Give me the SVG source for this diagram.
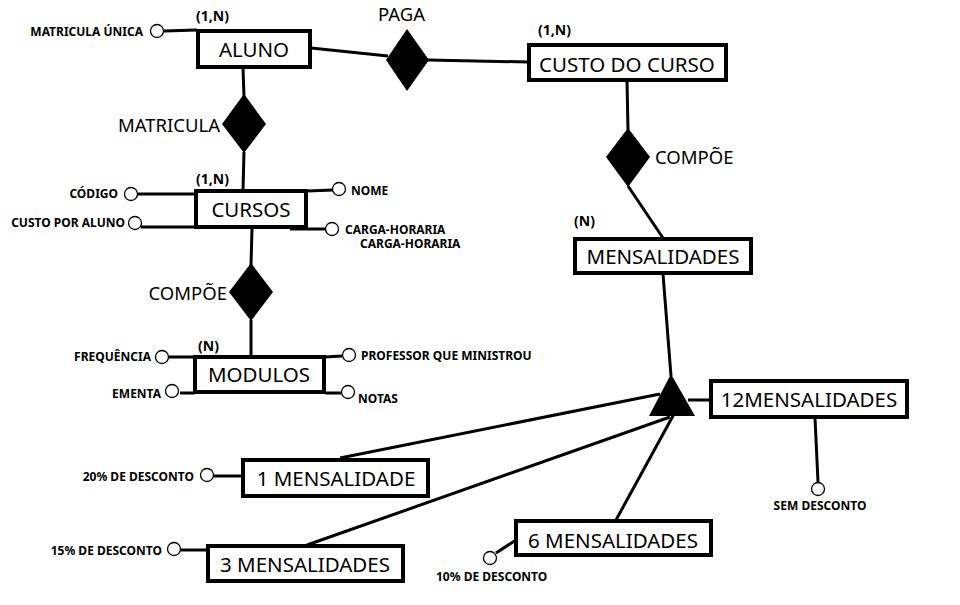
<svg xmlns="http://www.w3.org/2000/svg" width="960" height="605" viewBox="0 0 960 605">
<style>
.box{fill:#fff;stroke:#000;stroke-width:4}
.lbl{font-family:"Noto Sans","Open Sans",sans-serif;font-size:20.5px;fill:#000;text-anchor:middle}
.rel{font-family:"Noto Sans","Open Sans",sans-serif;font-size:18.5px;fill:#000}
.att{font-family:"Noto Sans","Open Sans",sans-serif;font-size:12px;font-weight:bold;fill:#000}
.card{font-family:"Noto Sans","Open Sans",sans-serif;font-size:14px;font-weight:bold;fill:#000}
.dia{fill:#000;stroke:none}
.ln{stroke:#000;stroke-width:3;fill:none}
.at{fill:#fff;stroke:#000;stroke-width:1.3}
</style>
<rect width="960" height="605" fill="#fff"/>
<g id="connectors">
<line class="ln" x1="164" y1="31" x2="197" y2="30"/>
<line class="ln" x1="311" y1="48" x2="388" y2="56"/>
<line class="ln" x1="428" y1="60" x2="528" y2="62"/>
<line class="ln" x1="243" y1="68" x2="244" y2="97"/>
<line class="ln" x1="244" y1="152" x2="243" y2="190"/>
<line class="ln" x1="138" y1="194" x2="196" y2="194"/>
<line class="ln" x1="141" y1="227" x2="196" y2="227"/>
<line class="ln" x1="307" y1="191" x2="333" y2="190"/>
<line class="ln" x1="290" y1="229" x2="326" y2="229"/>
<line class="ln" x1="252" y1="228" x2="251" y2="265"/>
<line class="ln" x1="251" y1="320" x2="251" y2="356"/>
<line class="ln" x1="169" y1="357" x2="195" y2="357"/>
<line class="ln" x1="180" y1="393" x2="195" y2="393"/>
<line class="ln" x1="325" y1="357" x2="342" y2="356"/>
<line class="ln" x1="325" y1="393" x2="341" y2="393"/>
<line class="ln" x1="627" y1="81" x2="628" y2="130"/>
<line class="ln" x1="628" y1="186" x2="663" y2="238"/>
<line class="ln" x1="663" y1="274" x2="671" y2="376"/>
<line class="ln" x1="688" y1="400" x2="711" y2="400"/>
<line class="ln" x1="815" y1="418" x2="818" y2="482"/>
<line class="ln" x1="340" y1="458" x2="660" y2="394"/>
<line class="ln" x1="307" y1="545" x2="670" y2="417"/>
<line class="ln" x1="616" y1="520" x2="674" y2="414"/>
<line class="ln" x1="496" y1="553" x2="516" y2="540"/>
<line class="ln" x1="214" y1="476" x2="243" y2="476"/>
<line class="ln" x1="181" y1="550" x2="208" y2="550"/>
</g>
<g id="rel-paga">
<polygon class="dia" points="407,29 429,60 407,91 386,60"/>
<text class="rel" x="378" y="20.5">PAGA</text>
</g>
<g id="rel-matricula">
<polygon class="dia" points="244,94 266,124 244,153 222,124"/>
<text class="rel" x="220" y="132" text-anchor="end">MATRICULA</text>
</g>
<g id="rel-compoe-curso">
<polygon class="dia" points="628,128 650,157 628,187 606,157"/>
<text class="rel" x="655" y="164">COMPÕE</text>
</g>
<g id="rel-compoe-modulos">
<polygon class="dia" points="251,263 273,292 251,321 229,292"/>
<text class="rel" x="227" y="300" text-anchor="end">COMPÕE</text>
</g>
<g id="isa">
<polygon class="dia" points="671,374 695,416 649,416"/>
</g>
<g id="aluno">
<rect class="box" x="198" y="31" width="112" height="36"/>
<text class="lbl" x="254" y="57">ALUNO</text>
<text class="card" x="196" y="21">(1,N)</text>
<circle class="at" cx="157" cy="31" r="6.5"/>
<text class="att" x="143" y="36" text-anchor="end">MATRICULA ÚNICA</text>
</g>
<g id="custo-do-curso">
<rect class="box" x="529" y="45" width="197" height="35"/>
<text class="lbl" x="627" y="72">CUSTO DO CURSO</text>
<text class="card" x="538" y="35">(1,N)</text>
</g>
<g id="cursos">
<rect class="box" x="196" y="191" width="110" height="36"/>
<text class="lbl" x="251" y="217">CURSOS</text>
<text class="card" x="196" y="184">(1,N)</text>
<circle class="at" cx="131" cy="194" r="6.5"/>
<text class="att" x="118" y="198" text-anchor="end">CÓDIGO</text>
<circle class="at" cx="135" cy="223" r="6.5"/>
<text class="att" x="125" y="227" text-anchor="end">CUSTO POR ALUNO</text>
<circle class="at" cx="339" cy="189" r="6.5"/>
<text class="att" x="351" y="195">NOME</text>
<circle class="at" cx="332" cy="229" r="6.5"/>
<text class="att" x="345" y="234">CARGA-HORARIA</text>
<text class="att" x="360" y="247.5">CARGA-HORARIA</text>
</g>
<g id="modulos">
<rect class="box" x="195" y="357" width="129" height="35"/>
<text class="lbl" x="259" y="382">MODULOS</text>
<text class="card" x="198" y="351">(N)</text>
<circle class="at" cx="162" cy="357" r="6.5"/>
<text class="att" x="151" y="361" text-anchor="end">FREQUÊNCIA</text>
<circle class="at" cx="172" cy="391" r="6.5"/>
<text class="att" x="161" y="398" text-anchor="end">EMENTA</text>
<circle class="at" cx="349" cy="355" r="6.5"/>
<text class="att" x="361" y="360">PROFESSOR QUE MINISTROU</text>
<circle class="at" cx="348" cy="392" r="6.5"/>
<text class="att" x="358" y="403">NOTAS</text>
</g>
<g id="mensalidades">
<rect class="box" x="575" y="239" width="176" height="34"/>
<text class="lbl" x="663" y="264">MENSALIDADES</text>
<text class="card" x="574" y="226">(N)</text>
</g>
<g id="m12">
<rect class="box" x="711" y="381" width="196" height="36"/>
<text class="lbl" x="809" y="407">12MENSALIDADES</text>
<circle class="at" cx="818" cy="489" r="6.5"/>
<text class="att" x="820" y="510" text-anchor="middle">SEM DESCONTO</text>
</g>
<g id="m1">
<rect class="box" x="243" y="460" width="185" height="36"/>
<text class="lbl" x="336" y="486">1 MENSALIDADE</text>
<circle class="at" cx="207" cy="475" r="6.5"/>
<text class="att" x="194" y="481" text-anchor="end">20% DE DESCONTO</text>
</g>
<g id="m3">
<rect class="box" x="208" y="546" width="195" height="35"/>
<text class="lbl" x="305" y="572">3 MENSALIDADES</text>
<circle class="at" cx="174" cy="549" r="6.5"/>
<text class="att" x="162" y="555" text-anchor="end">15% DE DESCONTO</text>
</g>
<g id="m6">
<rect class="box" x="516" y="521" width="195" height="34"/>
<text class="lbl" x="613" y="548">6 MENSALIDADES</text>
<circle class="at" cx="490" cy="558" r="6.5"/>
<text class="att" x="436" y="581">10% DE DESCONTO</text>
</g>
</svg>
